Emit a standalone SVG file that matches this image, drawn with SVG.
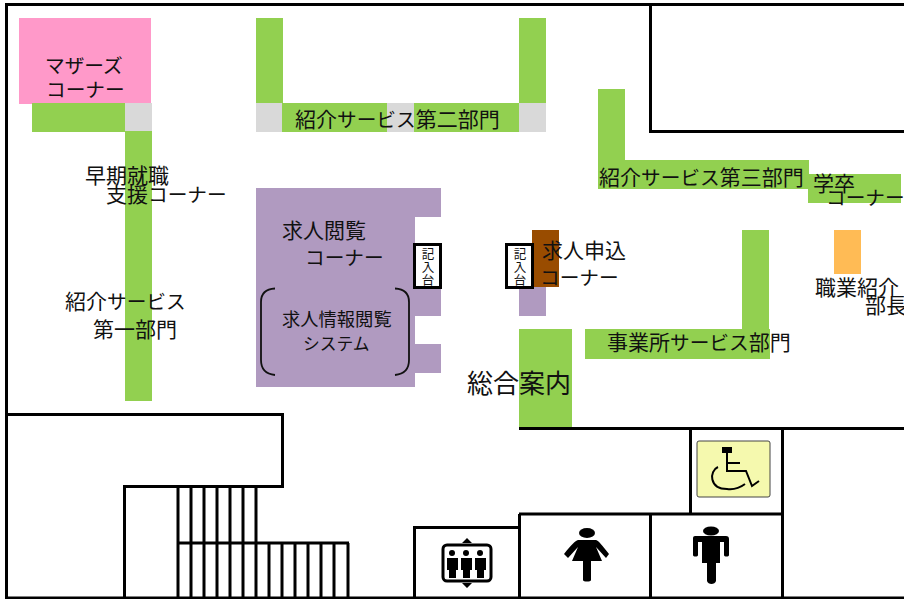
<svg xmlns="http://www.w3.org/2000/svg" width="904" height="599" viewBox="0 0 904 599">
<style>
text{font-family:"Noto Sans CJK JP","Noto Sans CJK SC",sans-serif;font-size:19.700px;fill:#111}
.k,tspan{font-size:21px}
.s{font-size:18.300px}
.n{font-size:16.800px}
.t{font-size:12.500px;text-anchor:middle}
.g{fill:#92d050}.p{fill:#b09ac0}.y{fill:#d9d9d9}
.w{fill:none;stroke:#000;stroke-width:3}
.b{fill:#fff;stroke:#000;stroke-width:3}
</style>
<rect width="904" height="599" fill="#fff"/>
<g id="walls" class="w">
<path d="M904 4.500H6.500V598H904"/>
<path d="M650.500 4.500V131.500H904"/>
<path d="M6.500 414.500H282.500V486.500H124.500V598"/>
<path d="M178 486V598M191 486V598M204 486V598M217 486V598M230 486V598M243 486V598M256 486V598M269 543V598M282 543V598M295 543V598M308 543V598M321 543V598M334 543V598M348 543V598M178 543H349"/>
<path d="M519 428.500H904M690.500 428V514M782.500 428V598M519 514H782M519.500 514V598M650.500 514V598M414.500 598V527.500H519"/>
</g>
<g id="mother">
<rect x="19" y="18" width="132" height="86" fill="#ff99c9"/>
<text x="45" y="73">マザーズ</text>
<text x="46" y="97">コーナー</text>
</g>
<g id="division1">
<rect class="g" x="32" y="103" width="93" height="29"/>
<rect class="y" x="125" y="103" width="27" height="28"/>
<rect class="g" x="125" y="131" width="27" height="270"/>
<text class="k" x="85" y="183">早期就職</text>
<text x="106" y="202"><tspan>支援</tspan>コーナー</text>
<text x="65" y="309"><tspan>紹介</tspan>サービス</text>
<text class="k" x="93" y="337">第一部門</text>
</g>
<g id="division2">
<rect class="g" x="256" y="18" width="27" height="85"/>
<rect class="y" x="256" y="103" width="26" height="29"/>
<rect class="g" x="282" y="103" width="237" height="29"/>
<rect class="y" x="387" y="103" width="27" height="29"/>
<rect class="g" x="519" y="18" width="27" height="85"/>
<rect class="y" x="519" y="103" width="27" height="29"/>
<text x="295" y="127"><tspan>紹介</tspan>サービス<tspan>第二部門</tspan></text>
</g>
<g id="division3">
<rect class="g" x="598" y="89" width="27" height="71"/>
<rect class="g" x="598" y="160" width="211" height="29"/>
<text x="599" y="185"><tspan>紹介</tspan>サービス<tspan>第三部門</tspan></text>
</g>
<g id="gakusotsu">
<rect class="g" x="808" y="174" width="93" height="29"/>
<text class="k" x="813" y="191">学卒</text>
<text x="826" y="205">コーナー</text>
</g>
<g id="manager">
<rect x="834" y="230" width="27" height="44" fill="#ffbb55"/>
<text class="k" x="815" y="295">職業紹介</text>
<text class="k" x="865" y="313">部長</text>
</g>
<g id="business">
<rect class="g" x="742" y="230" width="27" height="99"/>
<rect class="g" x="585" y="329" width="185" height="30"/>
<text x="607" y="350"><tspan>事業所</tspan>サービス<tspan>部門</tspan></text>
</g>
<g id="browse">
<path class="p" d="M256 188H441V217H415V288H441V316H415V344H441V373H415V387H256Z"/>
<text class="k" x="282" y="238">求人閲覧</text>
<text x="305" y="265">コーナー</text>
<text class="s" x="282" y="326">求人情報閲覧</text>
<text class="n" x="303" y="350">システム</text>
<path d="M275 288.500C265 289 261 294 261 302V360C261 368 265 374 275 375M395 288.500C405 289 409 294 409 302V360C409 368 405 374 395 375" fill="none" stroke="#111" stroke-width="1.800"/>
</g>
<g id="desk1">
<rect class="b" x="414.500" y="244.500" width="26" height="43"/>
<text class="t" x="428" y="259">記</text><text class="t" x="428" y="272">入</text><text class="t" x="428" y="285">台</text>
</g>
<g id="apply">
<rect x="519" y="287" width="27" height="29" class="p"/>
<rect x="532" y="230" width="27" height="57" fill="#994c00"/>
<text class="k" x="542" y="258">求人申込</text>
<text x="540" y="285">コーナー</text>
</g>
<g id="desk2">
<rect class="b" x="506.500" y="244.500" width="26" height="43"/>
<text class="t" x="520" y="259">記</text><text class="t" x="520" y="272">入</text><text class="t" x="520" y="285">台</text>
</g>
<g id="info">
<rect class="g" x="519" y="329" width="53" height="98"/>
<text x="467" y="393" style="font-size:26px">総合案内</text>
</g>
<g id="wheelchair">
<rect x="697" y="441" width="73" height="56" rx="2" fill="#f5f9ae" stroke="#444" stroke-width="1"/>
<rect x="722" y="447" width="10" height="6" fill="#000"/>
<path d="M727 453V471H746L752 486L759 481M727 463H740M718 467C709 471 709 489 727 489C735 490 741 487 745 484" fill="none" stroke="#000" stroke-width="2"/>
</g>
<g id="man">
<ellipse cx="711" cy="531" rx="8" ry="4.500"/>
<path d="M693 538C693 536 695 536 696 536H726C728 536 729 537 729 539V555C729 557 724 557 724 555V542H720V563H716V581C715 585 708 585 707 581V563H702V542H698V555C698 557 693 557 693 555Z"/>
</g>
<g id="woman">
<ellipse cx="587" cy="533" rx="8" ry="5"/>
<path d="M578 540H596C599 541 601 544 609 554L606 558L596 547L602 561H591V580C591 582 583 582 583 580V561H572L578 547L568 558L564 554C572 544 575 541 578 540Z"/>
</g>
<g id="elevator">
<rect x="443" y="545" width="48" height="36" rx="4" fill="#fff" stroke="#000" stroke-width="3"/>
<path d="M467 538L472 543H462ZM467 588L472 583H462Z"/>
<circle cx="452" cy="553" r="3"/><path d="M447 558H458V570H456V578H449V570H447Z"/>
<circle cx="466" cy="553" r="3"/><path d="M461 558H472V570H470V578H463V570H461Z"/>
<circle cx="480" cy="553" r="3"/><path d="M475 558H486V570H484V578H477V570H475Z"/>
</g>
</svg>
